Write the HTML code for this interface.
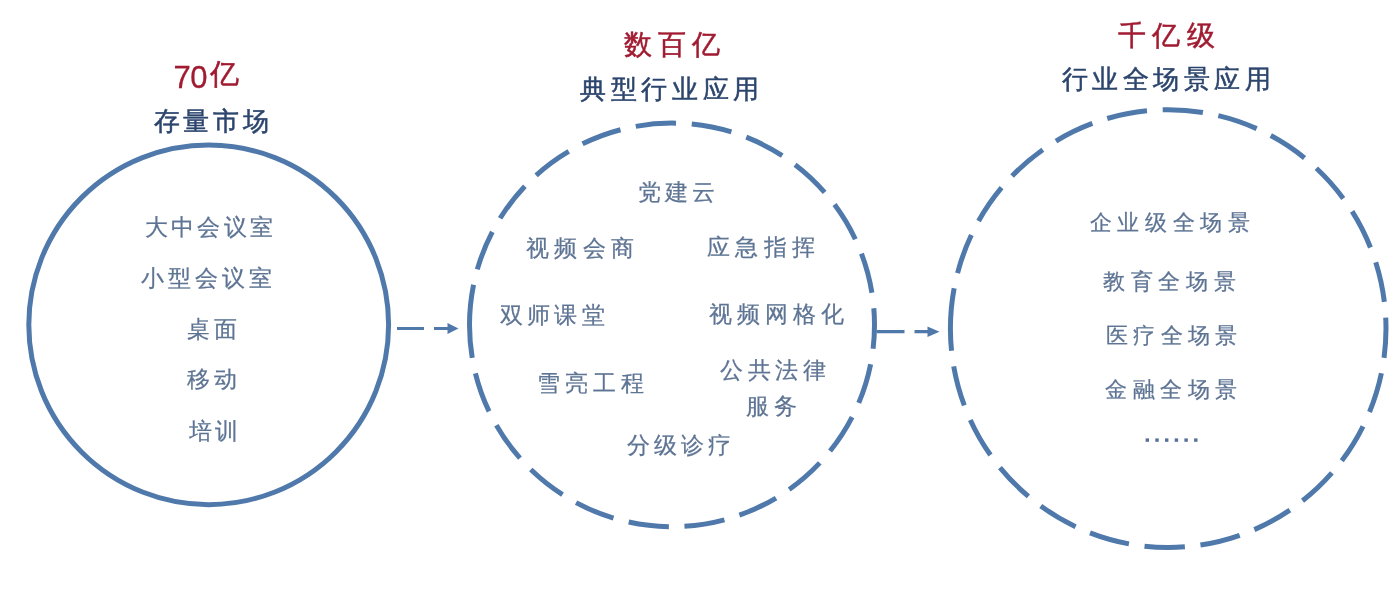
<!DOCTYPE html>
<html><head><meta charset="utf-8"><style>
html,body{margin:0;padding:0;background:#fff;width:1399px;height:589px;overflow:hidden}
body{position:relative;font-family:"Liberation Sans",sans-serif}
.t,.n{position:absolute;white-space:nowrap;line-height:1}
#w{position:absolute;left:0;top:0;width:1399px;height:589px;filter:blur(0.4px)}
</style></head><body><div id="w">
<svg width="1399" height="589" viewBox="0 0 1399 589" style="position:absolute;left:0;top:0">
<g fill="none" stroke="#5079ab" stroke-width="5">
<path d="M28.80,324.80 A179.9,179.9 0 0 1 388.60,324.80 A179.9,179.9 0 0 1 28.80,324.80"/>
<path d="M469.50,324.90 A202.5,201.8 0 0 1 874.50,324.90 A202.5,201.8 0 0 1 469.50,324.90" stroke-dasharray="40.5 15.7"/>
<path d="M950.40,328.60 A217.8,219 0 0 1 1386.00,328.60 A217.8,219 0 0 1 950.40,328.60" stroke-dasharray="40.5 15.7"/>
</g>
<g stroke="#5079ab" stroke-width="3.2" fill="none">
<path d="M397,328.5 H449" stroke-dasharray="27 10"/>
<path d="M876.5,331.7 H929" stroke-dasharray="28 10"/>
</g>
<g fill="#5079ab">
<path d="M447.5,323 L458.5,328.5 L447.5,334 Z"/>
<path d="M927.5,326.5 L939.5,331.7 L927.5,337 Z"/>
<rect x="1145.6" y="438.4" width="3.4" height="3.4" fill="#56709a"/><rect x="1155.3" y="438.4" width="3.4" height="3.4" fill="#56709a"/><rect x="1165.0" y="438.4" width="3.4" height="3.4" fill="#56709a"/><rect x="1174.7" y="438.4" width="3.4" height="3.4" fill="#56709a"/><rect x="1184.4" y="438.4" width="3.4" height="3.4" fill="#56709a"/><rect x="1194.1" y="438.4" width="3.4" height="3.4" fill="#56709a"/>
</g>
</svg>
<div class="n" style="left:173.6px;top:61.7px;font-size:31px;color:#a01b31;letter-spacing:-0.6px;-webkit-text-stroke:0.3px">70</div>
<div class="t" style="left:209.6px;top:60.3px;font-size:28.6px;color:#a01b31;-webkit-text-stroke:0.5px">亿</div>
<div class="t" style="left:153.8px;top:108.5px;font-size:25.5px;letter-spacing:3.68px;color:#2c456d;-webkit-text-stroke:0.5px">存量市场</div>
<div class="t" style="left:624.0px;top:31.4px;font-size:28px;letter-spacing:5.82px;color:#a01b31;-webkit-text-stroke:0.5px">数百亿</div>
<div class="t" style="left:580.0px;top:77.2px;font-size:25.5px;letter-spacing:4.70px;color:#2c456d;-webkit-text-stroke:0.5px">典型行业应用</div>
<div class="t" style="left:1118.1px;top:21.6px;font-size:28px;letter-spacing:6.34px;color:#a01b31;-webkit-text-stroke:0.5px">千亿级</div>
<div class="t" style="left:1061.6px;top:66.6px;font-size:25.5px;letter-spacing:4.49px;color:#2c456d;-webkit-text-stroke:0.5px">行业全场景应用</div>
<div class="t" style="left:144.8px;top:215.5px;font-size:23px;letter-spacing:3.32px;color:#5e7494;-webkit-text-stroke:0.25px">大中会议室</div>
<div class="t" style="left:141.3px;top:266.5px;font-size:23px;letter-spacing:3.90px;color:#5e7494;-webkit-text-stroke:0.25px">小型会议室</div>
<div class="t" style="left:187.2px;top:317.8px;font-size:23px;letter-spacing:3.61px;color:#5e7494;-webkit-text-stroke:0.25px">桌面</div>
<div class="t" style="left:187.3px;top:368.2px;font-size:23px;letter-spacing:3.47px;color:#5e7494;-webkit-text-stroke:0.25px">移动</div>
<div class="t" style="left:188.7px;top:420.1px;font-size:23px;letter-spacing:2.96px;color:#5e7494;-webkit-text-stroke:0.25px">培训</div>
<div class="t" style="left:637.9px;top:181.2px;font-size:23px;letter-spacing:4.19px;color:#5e7494;-webkit-text-stroke:0.25px">党建云</div>
<div class="t" style="left:525.8px;top:237.2px;font-size:23px;letter-spacing:5.53px;color:#5e7494;-webkit-text-stroke:0.25px">视频会商</div>
<div class="t" style="left:707.4px;top:235.7px;font-size:23px;letter-spacing:5.07px;color:#5e7494;-webkit-text-stroke:0.25px">应急指挥</div>
<div class="t" style="left:499.5px;top:303.6px;font-size:23px;letter-spacing:4.38px;color:#5e7494;-webkit-text-stroke:0.25px">双师课堂</div>
<div class="t" style="left:709.0px;top:302.7px;font-size:23px;letter-spacing:4.93px;color:#5e7494;-webkit-text-stroke:0.25px">视频网格化</div>
<div class="t" style="left:537.4px;top:372.4px;font-size:23px;letter-spacing:4.73px;color:#5e7494;-webkit-text-stroke:0.25px">雪亮工程</div>
<div class="t" style="left:719.9px;top:358.9px;font-size:23px;letter-spacing:4.65px;color:#5e7494;-webkit-text-stroke:0.25px">公共法律</div>
<div class="t" style="left:746.2px;top:394.8px;font-size:23px;letter-spacing:5.21px;color:#5e7494;-webkit-text-stroke:0.25px">服务</div>
<div class="t" style="left:627.4px;top:434.3px;font-size:23px;letter-spacing:3.96px;color:#5e7494;-webkit-text-stroke:0.25px">分级诊疗</div>
<div class="t" style="left:1089.9px;top:212.4px;font-size:21.8px;letter-spacing:5.54px;color:#5e7494;-webkit-text-stroke:0.25px">企业级全场景</div>
<div class="t" style="left:1102.9px;top:270.6px;font-size:21.8px;letter-spacing:5.67px;color:#5e7494;-webkit-text-stroke:0.25px">教育全场景</div>
<div class="t" style="left:1106.0px;top:324.9px;font-size:21.8px;letter-spacing:5.34px;color:#5e7494;-webkit-text-stroke:0.25px">医疗全场景</div>
<div class="t" style="left:1105.1px;top:379.3px;font-size:21.8px;letter-spacing:5.58px;color:#5e7494;-webkit-text-stroke:0.25px">金融全场景</div>
</div></body></html>
